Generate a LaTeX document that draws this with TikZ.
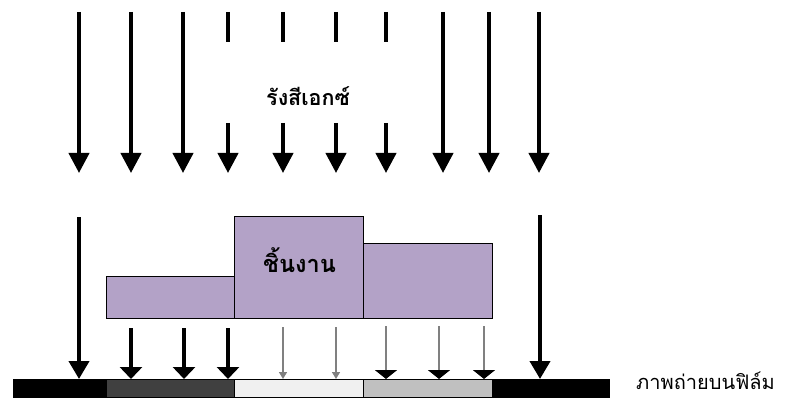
\documentclass[tikz,border=0pt]{standalone}
\usepackage{fontspec}
\newfontfamily\thaifont[Script=Thai]{Loma}
\usetikzlibrary{arrows.meta}
\definecolor{workpiece}{HTML}{B3A2C7}
\definecolor{filmdark}{HTML}{404040}
\definecolor{filmlight}{HTML}{F0F0F0}
\definecolor{filmmid}{HTML}{C0C0C0}
\definecolor{raygray}{HTML}{808080}
\tikzset{
  ray/.style={line width=4pt, -{Triangle[width=20pt,length=20pt]}},
  raydash/.style={ray, dash pattern=on 30pt off 81pt on 300pt},
  longray/.style={line width=4pt, -{Triangle[width=20pt,length=18pt]}},
  strongray/.style={line width=4pt, -{Triangle[width=22pt,length=12pt]}},
  midray/.style={line width=2pt, draw=raygray, -{Triangle[width=22pt,length=9pt,color=black]}},
  weakray/.style={line width=1.5pt, draw=raygray, -{Triangle[width=8pt,length=7pt,color=raygray]}},
  block/.style={draw=black, line width=1pt, fill=workpiece, inner sep=0pt},
  filmseg/.style={draw=black, line width=0.8pt, inner sep=0pt, minimum height=18pt},
  thailabel/.style={font=\thaifont, inner sep=0pt, anchor=base west}
}
\begin{document}
\begin{tikzpicture}[x=1pt,y=-1pt]
\useasboundingbox (0,0) rectangle (786,398);
% top rays
\foreach \i/\x in {1/79,2/131,3/183,8/443,9/489,10/539}{
  \coordinate (t\i) at (\x,12);
  \coordinate (b\i) at (\x,173);
  \draw[ray] (t\i) -- (b\i);
}
\foreach \i/\x in {4/228,5/283,6/336,7/386}{
  \coordinate (t\i) at (\x,12);
  \coordinate (b\i) at (\x,173);
  \draw[raydash] (t\i) -- (b\i);
}
\node[thailabel, font=\thaifont\bfseries\fontsize{21.5}{24}\selectfont] (xray) at (266,106) {รังสีเอกซ์};
% workpiece
\node[block, minimum width=128pt, minimum height=42pt] (w1) at (170,297) {};
\node[block, minimum width=129pt, minimum height=75pt] (w3) at (427.5,280.5) {};
\node[block, minimum width=129pt, minimum height=102pt] (w2) at (298.5,267) {};
\node[thailabel, font=\thaifont\bfseries\fontsize{23.5}{26}\selectfont] (wlabel) at (263,272) {ชิ้นงาน};
% film
\node[filmseg, fill=black, minimum width=93pt] (f1) at (59.5,388) {};
\node[filmseg, fill=filmdark, minimum width=128pt] (f2) at (170,388) {};
\node[filmseg, fill=filmlight, minimum width=129pt] (f3) at (298.5,388) {};
\node[filmseg, fill=filmmid, minimum width=129pt] (f4) at (427.5,388) {};
\node[filmseg, fill=black, minimum width=117pt] (f5) at (550.5,388) {};
\node[thailabel, font=\thaifont\fontsize{20}{22}\selectfont] (flabel) at (636,389) {ภาพถ่ายบนฟิล์ม};
% lower rays
\coordinate (l1) at (79,217);  \coordinate (m1) at (79,379);
\coordinate (l2) at (540,215); \coordinate (m2) at (540,379);
\draw[longray] (l1) -- (m1);
\draw[longray] (l2) -- (m2);
\foreach \i/\x in {3/131,4/184,5/228}{
  \coordinate (l\i) at (\x,328); \coordinate (m\i) at (\x,379);
  \draw[strongray] (l\i) -- (m\i);
}
\foreach \i/\x in {6/283,7/336}{
  \coordinate (l\i) at (\x,327); \coordinate (m\i) at (\x,379);
  \draw[weakray] (l\i) -- (m\i);
}
\foreach \i/\x in {8/386,9/439,10/484}{
  \coordinate (l\i) at (\x,326); \coordinate (m\i) at (\x,379);
  \draw[midray] (l\i) -- (m\i);
}
\end{tikzpicture}
\end{document}
